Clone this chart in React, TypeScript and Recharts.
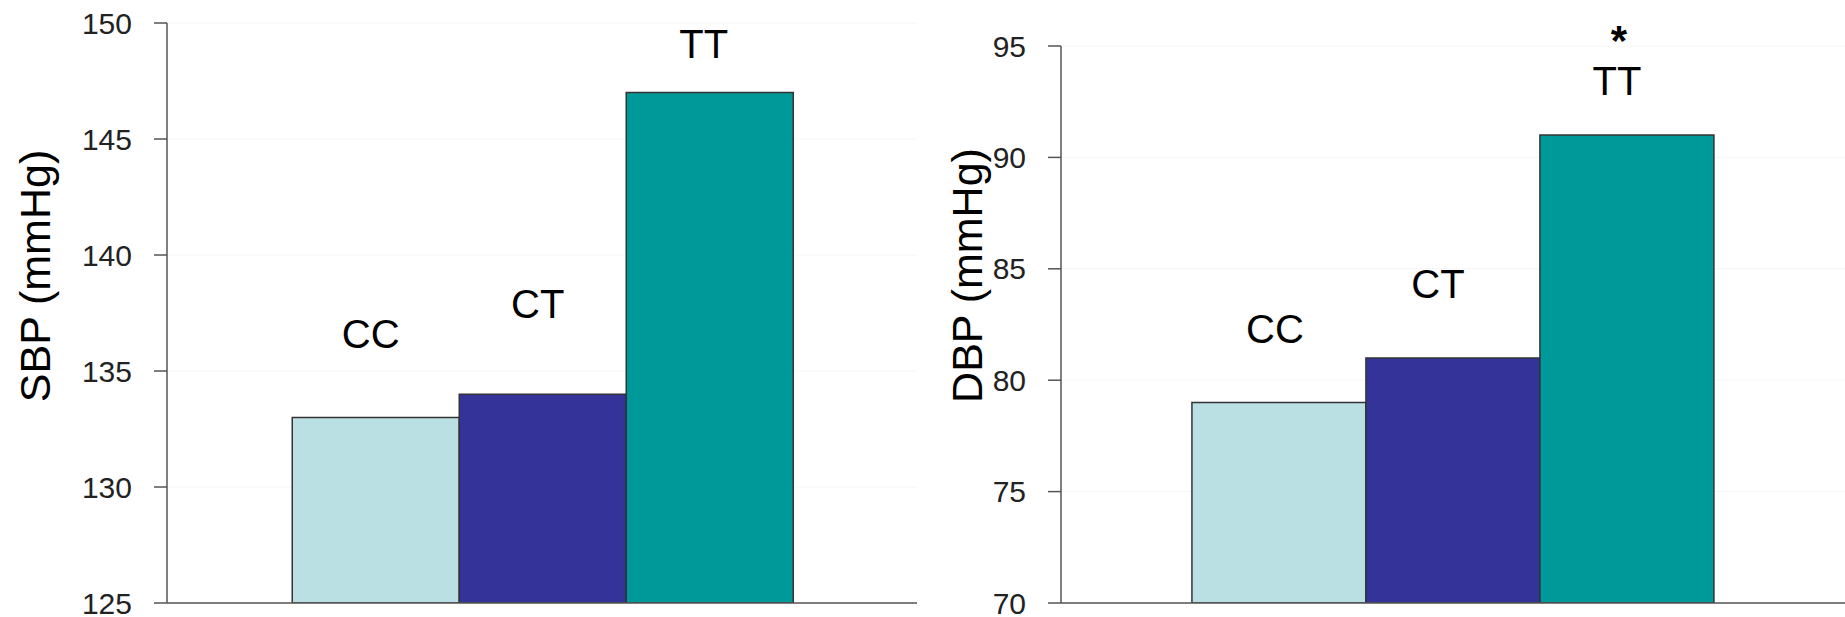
import { BarChart, Bar, XAxis, YAxis, CartesianGrid, LabelList } from 'recharts';

// genotype groups and mean blood pressure per group
const genotypes = ['CC', 'CT', 'TT'];
const sbpValues = [133, 134, 147];
const dbpValues = [79, 81, 91];
const sbpTicks = [125, 130, 135, 140, 145, 150];
const dbpTicks = [70, 75, 80, 85, 90, 95];
const dbpMarks = ['', '', '*'];

const colors = ['#BBE0E3', '#333399', '#009999'];
const font = '"Liberation Sans", Arial, Helvetica, sans-serif';

// hand-placed genotype captions above each bar
const sbpLabelOffsets = [
  { dx: -5, dy: 83 },
  { dx: -5, dy: 90 },
  { dx: -6, dy: 49 },
];
const dbpLabelOffsets = [
  { dx: -4, dy: 73 },
  { dx: -15, dy: 74 },
  { dx: -10, dy: 54 },
];

const toRow = (name: string, values: number[]) => {
  const row: Record<string, string | number> = { name };
  genotypes.forEach((g, i) => {
    row[g] = values[i];
  });
  return [row];
};

const sbpData = toRow('SBP', sbpValues);
const dbpData = toRow('DBP', dbpValues);

function caption(text: string, offset: { dx: number; dy: number }, mark?: string) {
  return (props: any) => {
    const { x, y, width } = props;
    const cx = Number(x) + Number(width) / 2 + offset.dx;
    const cy = Number(y) - offset.dy;
    return (
      <g>
        <text x={cx} y={cy} textAnchor="middle" dominantBaseline="central" fontSize={40} fontFamily={font} fill="#000">
          {text}
        </text>
        {mark ? (
          <text x={cx + 2} y={cy - 26} textAnchor="middle" fontSize={42} fontWeight="bold" fontFamily={font} fill="#000">
            {mark}
          </text>
        ) : null}
      </g>
    );
  };
}

function axisTitle(text: string, x: number, shift: number) {
  return (props: any) => {
    const vb = props.viewBox || {};
    const cy = Number(vb.y) + Number(vb.height) / 2 - shift;
    return (
      <text
        x={x}
        y={cy}
        transform={`rotate(-90, ${x}, ${cy})`}
        textAnchor="middle"
        dominantBaseline="central"
        fontSize={43}
        fontFamily={font}
        fill="#000"
      >
        {text}
      </text>
    );
  };
}

type PanelProps = {
  data: Record<string, string | number>[];
  width: number;
  axisWidth: number;
  top: number;
  right: number;
  domain: [number, number];
  ticks: number[];
  title: string;
  titleX: number;
  titleShift: number;
  offsets: { dx: number; dy: number }[];
  marks?: string[];
};

function Panel(p: PanelProps) {
  return (
    <BarChart
      width={p.width}
      height={617}
      data={p.data}
      margin={{ top: p.top, right: p.right, bottom: 13, left: 0 }}
      barCategoryGap="16.7%"
      barGap={0}
    >
      <CartesianGrid vertical={false} stroke="#f6f6f6" />
      <XAxis dataKey="name" tick={false} tickLine={false} height={1} stroke="#555" strokeWidth={1.5} />
      <YAxis
        type="number"
        domain={p.domain}
        ticks={p.ticks}
        interval={0}
        allowDataOverflow
        width={p.axisWidth}
        stroke="#555"
        strokeWidth={1.5}
        tickSize={13}
        tickMargin={22}
        tick={{ fontSize: 30, fontFamily: font, fill: '#222' }}
        label={{ content: axisTitle(p.title, p.titleX, p.titleShift) }}
      />
      {genotypes.map((g, i) => (
        <Bar key={g} dataKey={g} fill={colors[i]} stroke="#333" strokeWidth={1.5} isAnimationActive={false}>
          <LabelList dataKey={g} content={caption(g, p.offsets[i], p.marks ? p.marks[i] : undefined)} />
        </Bar>
      ))}
    </BarChart>
  );
}

export default function App() {
  return (
    <div style={{ position: 'absolute', left: 0, top: 0, width: 1845, height: 617, display: 'flex', background: '#fff' }}>
      <Panel
        data={sbpData}
        width={930}
        axisWidth={167}
        top={23}
        right={13}
        domain={[125, 150]}
        ticks={sbpTicks}
        title="SBP (mmHg)"
        titleX={35}
        titleShift={37}
        offsets={sbpLabelOffsets}
      />
      <Panel
        data={dbpData}
        width={915}
        axisWidth={131}
        top={46}
        right={0}
        domain={[70, 95]}
        ticks={dbpTicks}
        title="DBP (mmHg)"
        titleX={37}
        titleShift={49}
        offsets={dbpLabelOffsets}
        marks={dbpMarks}
      />
    </div>
  );
}
